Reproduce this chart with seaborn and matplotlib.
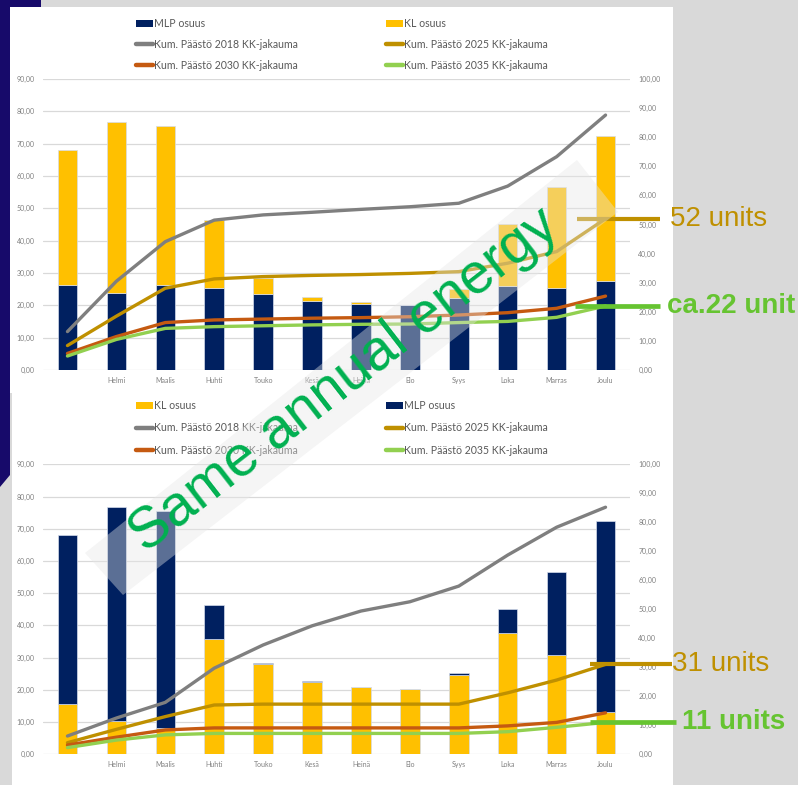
import numpy as np
import pandas as pd
import matplotlib
matplotlib.use("Agg")
import matplotlib.pyplot as plt
import matplotlib.transforms as mtransforms
from matplotlib.patches import Rectangle, Polygon
from matplotlib.lines import Line2D
import seaborn as sns

# ---------------------------------------------------------------- data
months = ["Tammi", "Helmi", "Maalis", "Huhti", "Touko", "Kesä",
          "Heinä", "Elo", "Syys", "Loka", "Marras", "Joulu"]
month_labels = ["", "Helmi", "Maalis", "Huhti", "Touko", "Kesä",
                "Heinä", "Elo", "Syys", "Loka", "Marras", "Joulu"]

# upper chart: monthly energy split (left axis)
top_mlp = [26.3, 23.7, 26.3, 25.3, 23.5, 21.3, 20.3, 20.0, 22.2, 26.1, 25.3, 27.5]
top_kl = [41.8, 52.9, 49.2, 21.0, 4.8, 1.3, 0.6, 0.2, 2.9, 19.0, 31.3, 45.0]
# upper chart: cumulative emissions (right axis)
top_2018 = [13.2, 30.5, 44.1, 51.5, 53.3, 54.2, 55.2, 56.1, 57.3, 63.2, 73.3, 87.6]
top_2025 = [8.4, 18.5, 28.1, 31.3, 32.1, 32.5, 32.8, 33.2, 33.8, 36.7, 40.7, 52.0]
top_2030 = [5.7, 11.5, 16.3, 17.2, 17.5, 17.8, 18.0, 18.3, 18.9, 19.7, 21.2, 25.4]
top_2035 = [4.8, 10.5, 14.3, 14.9, 15.2, 15.5, 15.7, 15.8, 16.3, 16.7, 18.1, 22.0]

# lower chart: monthly energy split (left axis)
bottom_kl = [15.6, 10.4, 8.1, 35.7, 28.0, 22.4, 20.8, 20.2, 24.7, 37.5, 30.7, 13.0]
bottom_mlp = [52.5, 66.2, 67.4, 10.6, 0.3, 0.2, 0.1, 0.0, 0.4, 7.6, 25.9, 59.5]
# lower chart: cumulative emissions (right axis)
bottom_2018 = [6.3, 12.5, 17.9, 29.7, 37.7, 44.3, 49.4, 52.6, 58.0, 68.7, 78.3, 85.2]
bottom_2025 = [4.0, 8.6, 13.0, 17.0, 17.3, 17.3, 17.3, 17.3, 17.3, 21.2, 25.6, 31.0]
bottom_2030 = [3.2, 5.9, 8.4, 9.1, 9.1, 9.1, 9.1, 9.1, 9.1, 9.8, 11.0, 14.3]
bottom_2035 = [2.3, 4.9, 6.7, 7.2, 7.2, 7.2, 7.2, 7.2, 7.2, 7.8, 9.3, 11.0]

top_callouts = [52, 22]
bottom_callouts = [31, 11]

# ---------------------------------------------------------------- style
NAVY = "#002060"
YELLOW = "#ffc000"
GRAY = "#7f7f7f"
GOLD = "#bf9000"
ORANGE = "#c55a11"
LGREEN = "#92d050"
CALLOUT_GREEN = "#66c431"
TEXT = "#595959"
TICK = "#808080"

sns.set_style("white")
plt.rcParams["font.family"] = ["Lato", "DejaVu Sans"]

W, H = 798, 785
fig = plt.figure(figsize=(W / 100, H / 100), dpi=100, facecolor="#d9d9d9")


def px_rect(x0, y0, x1, y1):
    return [x0 / W, 1 - y1 / H, (x1 - x0) / W, (y1 - y0) / H]


def fig_xy(x, y):
    return (x / W, 1 - y / H)


# slide background: indigo strip and white chart panels
fig.patches.append(Polygon([fig_xy(0, 0), fig_xy(41, 0), fig_xy(41, 7), fig_xy(10, 7),
                            fig_xy(10, 475), fig_xy(0, 487)],
                           closed=True, transform=fig.transFigure,
                           facecolor="#170a6a", edgecolor="none", zorder=-5))
for r in (px_rect(10, 7, 673, 393), px_rect(12, 393, 673, 785)):
    fig.patches.append(Rectangle((r[0], r[1]), r[2], r[3], transform=fig.transFigure,
                                 facecolor="white", edgecolor="none", zorder=-4))

xpos = np.arange(len(months))


def fmt(v):
    return f"{v:.2f}".replace(".", ",")


def draw_chart(rect, low, high, low_color, high_color, lines):
    ax = fig.add_axes(rect)
    ax.set_facecolor("none")
    df = pd.DataFrame({"month": months, "low": low, "high": high})
    sns.barplot(data=df, x="month", y="low", order=months, color=low_color,
                saturation=1, width=0.4, errorbar=None, edgecolor="#d5dcea",
                linewidth=0.5, ax=ax)
    sns.barplot(data=df, x="month", y="high", order=months, color=high_color,
                saturation=1, width=0.4, errorbar=None, edgecolor="#d5dcea",
                linewidth=0.5, bottom=df["low"].to_numpy(), ax=ax)
    ax.set_xlim(-0.5, 11.5)
    ax.set_ylim(0, 90)
    ax.set_yticks(np.arange(0, 91, 10))
    ax.set_yticklabels([fmt(v) for v in np.arange(0, 91, 10)])
    ax.set_xticks(xpos)
    ax.set_xticklabels(month_labels)
    ax.set_xlabel("")
    ax.set_ylabel("")
    ax.yaxis.grid(True, color="#d9d9d9", linewidth=0.9)
    ax.set_axisbelow(True)
    ax.tick_params(axis="both", length=0, labelsize=5, labelcolor=TICK)
    ax.tick_params(axis="y", pad=6)
    ax.tick_params(axis="x", pad=5)
    for s in ax.spines.values():
        s.set_visible(False)

    ax2 = ax.twinx()
    for vals, color in lines:
        sns.lineplot(x=xpos, y=vals, color=color, linewidth=2.4, ax=ax2)
    ax2.set_ylim(0, 100)
    ax2.set_yticks(np.arange(0, 101, 10))
    ax2.set_yticklabels([fmt(v) for v in np.arange(0, 101, 10)])
    ax2.tick_params(axis="y", length=0, labelsize=5, labelcolor=TICK, pad=6)
    ax2.set_ylabel("")
    for s in ax2.spines.values():
        s.set_visible(False)
    return ax, ax2


line_colors = [GRAY, GOLD, ORANGE, LGREEN]
top_ax, top_ax2 = draw_chart(px_rect(43, 79, 630, 370), top_mlp, top_kl, NAVY, YELLOW,
                             list(zip([top_2018, top_2025, top_2030, top_2035], line_colors)))
bot_ax, bot_ax2 = draw_chart(px_rect(43, 464.3, 630, 754.3), bottom_kl, bottom_mlp, YELLOW, NAVY,
                             list(zip([bottom_2018, bottom_2025, bottom_2030, bottom_2035], line_colors)))

# legends


def patch_handle(c, label):
    return Rectangle((0, 0), 1, 1, facecolor=c, edgecolor="none", label=label)


def line_handle(c, label):
    return Line2D([], [], color=c, linewidth=3.2, solid_capstyle="round", label=label)


leg_kw = dict(loc="upper left", frameon=False, fontsize=7.6, handlelength=1.6,
              handleheight=0.7, handletextpad=0.1,
              borderpad=0, borderaxespad=0, labelcolor=TEXT)


def add_legends(y_top, spacing, col1, col2):
    fig.legend(handles=col1, bbox_to_anchor=fig_xy(136, y_top), labelspacing=spacing, **leg_kw)
    fig.legend(handles=col2, bbox_to_anchor=fig_xy(386, y_top), labelspacing=spacing, **leg_kw)


add_legends(18, 0.95,
            [patch_handle(NAVY, "MLP osuus"),
             line_handle(GRAY, "Kum. Päästö 2018 KK-jakauma"),
             line_handle(ORANGE, "Kum. Päästö 2030 KK-jakauma")],
            [patch_handle(YELLOW, "KL osuus"),
             line_handle(GOLD, "Kum. Päästö 2025 KK-jakauma"),
             line_handle(LGREEN, "Kum. Päästö 2035 KK-jakauma")])
add_legends(400, 1.07,
            [patch_handle(YELLOW, "KL osuus"),
             line_handle(GRAY, "Kum. Päästö 2018 KK-jakauma"),
             line_handle(ORANGE, "Kum. Päästö 2030 KK-jakauma")],
            [patch_handle(NAVY, "MLP osuus"),
             line_handle(GOLD, "Kum. Päästö 2025 KK-jakauma"),
             line_handle(LGREEN, "Kum. Päästö 2035 KK-jakauma")])

# callouts for the year-end cumulative values


def callout(ax2, value, x0, x1, xt, text, color, lw, weight):
    tr = mtransforms.blended_transform_factory(fig.transFigure, ax2.transData)
    ax2.plot([x0 / W, x1 / W], [value, value], transform=tr, color=color,
             linewidth=lw, solid_capstyle="butt", clip_on=False, zorder=5)
    ax2.text(xt / W, value, text, transform=tr, color=color, fontsize=20,
             fontweight=weight, family=["Liberation Sans", "DejaVu Sans"],
             ha="left", va="center", clip_on=False)


callout(top_ax2, top_callouts[0], 577, 660, 670, f"{top_callouts[0]} units", GOLD, 3, "normal")
callout(top_ax2, top_callouts[1], 575, 660, 667, f"ca.{top_callouts[1]} unit", CALLOUT_GREEN, 3.4, "bold")
callout(bot_ax2, bottom_callouts[0], 590, 672, 672, f"{bottom_callouts[0]} units", GOLD, 3, "normal")
callout(bot_ax2, bottom_callouts[1], 590, 676, 682, f"{bottom_callouts[1]} units", CALLOUT_GREEN, 3.4, "bold")

# translucent diagonal banner with the headline
ov = fig.add_axes([0, 0, 1, 1], zorder=10)
ov.set_xlim(0, W)
ov.set_ylim(H, 0)
ov.axis("off")
ov.patch.set_alpha(0)
ov.add_patch(Polygon([(85, 553), (123, 595), (618, 212), (577, 160)], closed=True,
                     facecolor="#e6e6e6", edgecolor="none", alpha=0.4, zorder=1))
ov.text(344, 380, "Same annual energy", rotation=37.8, rotation_mode="anchor",
        ha="center", va="center", fontsize=41, color="#00b050",
        family=["Liberation Sans", "DejaVu Sans"], zorder=2)

fig.savefig("out.png", dpi=100, facecolor=fig.get_facecolor())
